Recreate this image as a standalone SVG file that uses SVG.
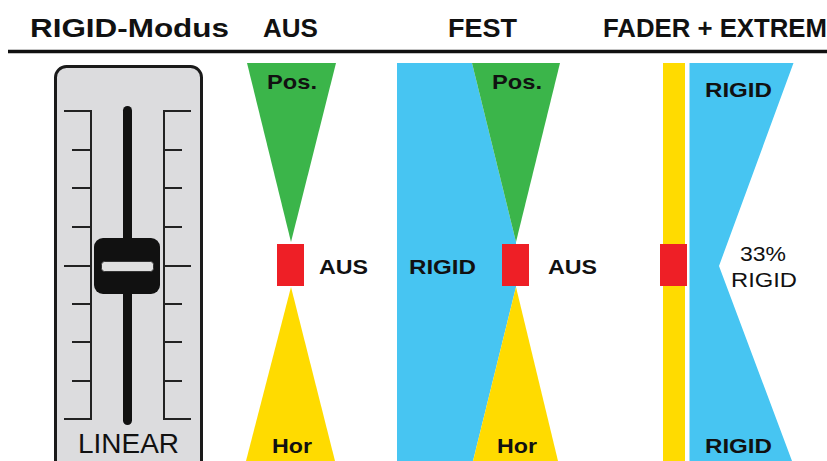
<svg xmlns="http://www.w3.org/2000/svg" width="827" height="461" viewBox="0 0 827 461">
<style>
.h{font-family:"Liberation Sans",Arial,sans-serif;font-weight:bold;font-size:25px;fill:#111}
.b{font-family:"Liberation Sans",Arial,sans-serif;font-weight:bold;font-size:21px;fill:#111}
.r{font-family:"Liberation Sans",Arial,sans-serif;font-size:21px;fill:#111}
.tk{stroke:#222;stroke-width:2;fill:none}
.g{fill:#3bb54a}.y{fill:#ffdb00}.red{fill:#ee1f26}.bl{fill:#47c5f2}
</style>
<rect width="827" height="461" fill="#fff"/>
<g id="header">
<text class="h" x="30" y="37" textLength="199" lengthAdjust="spacingAndGlyphs">RIGID-Modus</text>
<text class="h" x="263" y="37" textLength="55" lengthAdjust="spacingAndGlyphs">AUS</text>
<text class="h" x="448" y="37" textLength="69" lengthAdjust="spacingAndGlyphs">FEST</text>
<text class="h" x="603" y="37" textLength="224" lengthAdjust="spacingAndGlyphs">FADER + EXTREM</text>
<line x1="8" y1="51.5" x2="827" y2="51.5" stroke="#111" stroke-width="3.5"/>
</g>
<g id="fader">
<rect x="55.5" y="66.5" width="146" height="410" rx="11" fill="#dcdcde" stroke="#1a1a1a" stroke-width="3"/>
<path class="tk" d="M64 111H91V419H64M72 150H91M72 188H91M72 227H91M64 266H91M72 304H91M72 342H91M72 381H91"/>
<path class="tk" d="M191 111H164V419H191M182 150H164M182 188H164M182 227H164M191 266H164M182 304H164M182 342H164M182 381H164"/>
<rect x="123" y="106" width="9" height="319" rx="4.5" fill="#111"/>
<rect x="94" y="238" width="66" height="56" rx="9" fill="#111"/>
<rect x="101.5" y="261.5" width="52" height="10" rx="3" fill="#e0e0e0" stroke="#333" stroke-width="1"/>
<text class="r" x="78" y="453" font-size="27" style="font-size:27px" textLength="101" lengthAdjust="spacingAndGlyphs">LINEAR</text>
</g>
<g id="aus">
<polygon class="g" points="247,63 336,63 291,242"/>
<polygon class="y" points="291,287 335,461 246,461"/>
<rect class="red" x="277" y="244" width="27" height="42"/>
<text class="b" x="267" y="89" textLength="50" lengthAdjust="spacingAndGlyphs">Pos.</text>
<text class="b" x="272" y="453" textLength="40" lengthAdjust="spacingAndGlyphs">Hor</text>
<text class="b" x="319" y="274" textLength="49" lengthAdjust="spacingAndGlyphs">AUS</text>
</g>
<g id="fest">
<polygon class="bl" points="397,63 472,63 516,242 516,287 473,461 397,461"/>
<polygon class="g" points="472,63 560,63 516,242"/>
<polygon class="y" points="516,287 558,461 473,461"/>
<rect class="red" x="502" y="244" width="27" height="42"/>
<text class="b" x="492" y="89" textLength="50" lengthAdjust="spacingAndGlyphs">Pos.</text>
<text class="b" x="497" y="453" textLength="40" lengthAdjust="spacingAndGlyphs">Hor</text>
<text class="b" x="409" y="274" textLength="67" lengthAdjust="spacingAndGlyphs">RIGID</text>
<text class="b" x="548" y="274" textLength="49" lengthAdjust="spacingAndGlyphs">AUS</text>
</g>
<g id="extrem">
<rect class="y" x="663" y="63" width="22" height="398"/>
<rect class="red" x="660" y="244" width="27" height="42"/>
<polygon class="bl" points="689.5,63 793.5,63 719,266 792,461 689.5,461"/>
<text class="b" x="705" y="97" textLength="67" lengthAdjust="spacingAndGlyphs">RIGID</text>
<text class="b" x="705" y="453" textLength="67" lengthAdjust="spacingAndGlyphs">RIGID</text>
<text class="r" x="740" y="261" textLength="46" lengthAdjust="spacingAndGlyphs">33%</text>
<text class="r" x="731" y="287" textLength="66" lengthAdjust="spacingAndGlyphs">RIGID</text>
</g>
</svg>
